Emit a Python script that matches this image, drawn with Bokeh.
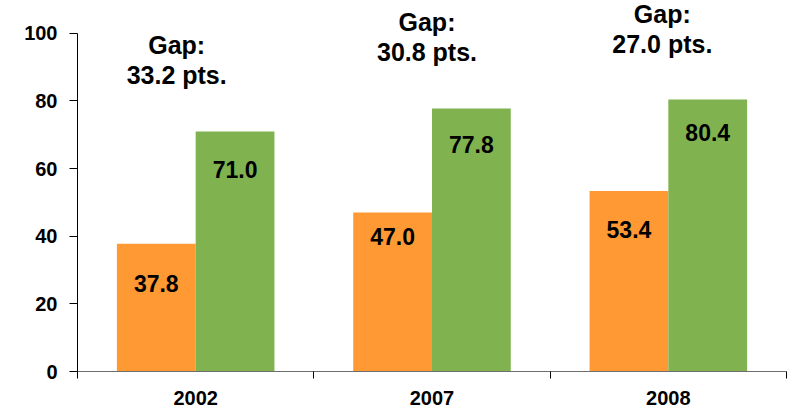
from bokeh.plotting import figure
from bokeh.models import ColumnDataSource, FixedTicker, Range1d
from bokeh.core.properties import value
from bokeh.embed import file_html
from bokeh.resources import INLINE

# ---- data ----
years = ["2002", "2007", "2008"]
orange_vals = [37.8, 47.0, 53.4]
green_vals = [71.0, 77.8, 80.4]
gaps = [33.2, 30.8, 27.0]
y_ticks = [0, 20, 40, 60, 80, 100]

# ---- style ----
ORANGE = "#FF9933"
GREEN = "#80B34F"
FONT = "Liberation Sans"
orange_label_drop = [40, 24, 39]   # px below bar top (label centre)
green_label_drop = [38, 36, 33]
gap_dx = [-19, -5, -6]              # px horizontal nudge of gap notes
gap_rise = 21.0                     # data units above green bar top

n = len(years)
idx = list(range(n))

p = figure(width=788, height=407,
           x_range=Range1d(0, n), y_range=Range1d(0, 109.7),
           output_backend="svg", toolbar_location=None,
           min_border_left=77, min_border_right=2,
           min_border_top=0, min_border_bottom=36)
p.outline_line_color = None
p.xgrid.visible = False
p.ygrid.visible = False
p.background_fill_color = "white"

# x axis: labels at category centres, ticks at category boundaries
xa = p.xaxis[0]
xa.ticker = FixedTicker(ticks=[i + 0.5 for i in idx], minor_ticks=list(range(n + 1)))
xa.major_label_overrides = {i + 0.5: years[i] for i in idx}
xa.major_tick_out = 0
xa.major_tick_in = 0
xa.minor_tick_out = 7
xa.minor_tick_in = 0
xa.minor_tick_line_color = "black"
xa.axis_line_color = "#6e6e6e"
xa.major_label_text_font = FONT
xa.major_label_text_font_style = "bold"
xa.major_label_text_font_size = "20px"
xa.major_label_text_color = "black"
xa.major_label_standoff = 12

ya = p.yaxis[0]
ya.ticker = FixedTicker(ticks=y_ticks)
ya.bounds = (y_ticks[0], y_ticks[-1])
ya.major_tick_out = 8
ya.major_tick_in = 0
ya.minor_tick_out = 0
ya.minor_tick_in = 0
ya.axis_line_color = "black"
ya.major_tick_line_color = "black"
ya.major_label_text_font = FONT
ya.major_label_text_font_style = "bold"
ya.major_label_text_font_size = "20px"
ya.major_label_text_color = "black"
ya.major_label_standoff = 12

bw = 1.0 / 3
ox = [i + 0.5 - bw / 2 for i in idx]
gx = [i + 0.5 + bw / 2 for i in idx]

src = ColumnDataSource(dict(
    ox=ox, gx=gx, orange=orange_vals, green=green_vals,
    otext=[f"{v:.1f}" for v in orange_vals],
    gtext=[f"{v:.1f}" for v in green_vals],
    odrop=orange_label_drop, gdrop=green_label_drop,
    cx=[i + 0.5 for i in idx],
    gy=[g + gap_rise for g in green_vals],
    gapt=[f"Gap:\n{g:.1f} pts." for g in gaps],
    gdx=gap_dx,
))

p.vbar(x="ox", top="orange", bottom=0, width=bw, source=src,
       fill_color=ORANGE, line_color=None)
p.vbar(x="gx", top="green", bottom=0, width=bw, source=src,
       fill_color=GREEN, line_color=None)

lab = dict(text_align="center", text_baseline="middle", text_color="black",
           text_font=value(FONT), text_font_style="bold", text_font_size="23px")
p.text(x="ox", y="orange", text="otext", y_offset="odrop", source=src, **lab)
p.text(x="gx", y="green", text="gtext", y_offset="gdrop", source=src, **lab)

p.text(x="cx", y="gy", text="gapt", x_offset="gdx", source=src,
       text_align="center", text_baseline="middle", text_color="black",
       text_font=value(FONT), text_font_style="bold", text_font_size="25px",
       text_line_height=1.07)

open("out.html", "w").write(file_html(p, INLINE))
